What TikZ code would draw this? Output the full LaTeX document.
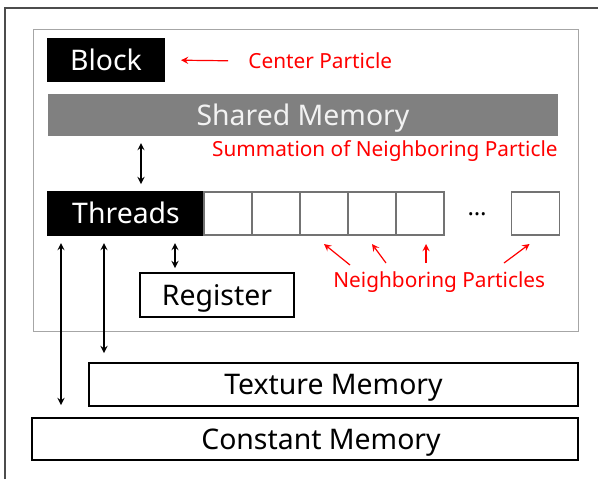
\documentclass[tikz,border=0pt]{standalone}
\usepackage{fontspec}
\setmainfont{Noto Sans}
\usetikzlibrary{positioning, arrows}
\tikzset{
    >=stealth, % filled arrow heads
    box/.style={draw, line width=0.7pt, inner sep=0pt, outer sep=0pt, text height=11pt, text depth=1pt, font=\fontsize{14.2}{16}\selectfont}, % memory boxes
    dark/.style={box, fill=black, text=white}, % black boxes
    cell/.style={box, draw=black!55, minimum width=24pt, minimum height=21.5pt}, % empty thread cells
    note/.style={text=red, inner sep=0pt, font=\fontsize{10.4}{12}\selectfont}, % red notes
    dbl/.style={<->, line width=0.6pt}, % memory access
    redarr/.style={->, red, line width=0.6pt}, % red pointers
}
\begin{document}
\begin{tikzpicture}[x=0.5pt, y=-0.5pt]
\useasboundingbox (0,0) rectangle (598,479);
\draw[black!70, line width=0.8pt] (5,479) -- (5,8) -- (598,8);
\draw[black!35, line width=0.5pt] (33,29) rectangle (578,331);

\node[dark, minimum width=58pt, minimum height=21pt] (block) at (106,60) {Block};
\node[box, draw=none, fill=black!50, text=black!5, minimum width=255pt, minimum height=21pt] (shared) at (303,115) {Shared Memory};
\node[dark, minimum width=78pt, minimum height=21.5pt] (threads) at (126,213.5) {Threads};
\node[cell, right=0pt of threads] (c1) {};
\node[cell, right=0pt of c1] (c2) {};
\node[cell, right=0pt of c2] (c3) {};
\node[cell, right=0pt of c3] (c4) {};
\node[cell, right=0pt of c4] (c5) {};
\node[font=\fontsize{12}{14}\selectfont] (dots) at (477,214) {…};
\node[cell] (cl) at (535.5,213.5) {};
\node[box, minimum width=77pt, minimum height=22pt] (register) at (217,295) {Register};
\node[box, minimum width=244.5pt, minimum height=21.5pt] (texture) at (333.5,384.5) {Texture Memory};
\node[box, minimum width=273pt, minimum height=21pt] (constant) at (305,439) {\hspace*{16pt}Constant Memory};

% red notes
\node[note, anchor=west] (center) at (248,61) {Center Particle};
\node[note, anchor=east] (summation) at (558,151) {Summation of Neighboring Particle};
\node[note, anchor=base west] (neighbors) at (333,287) {Neighboring Particles};

\draw[redarr, shorten <=10pt, shorten >=8.5pt] (center.west) -- (block.east);
\draw[redarr] ([shift={(17,-22)}]neighbors.base west) -- ([yshift=-4.5pt]c3.south);
\draw[redarr] ([shift={(53,-24)}]neighbors.base west) -- ([yshift=-4.5pt]c4.south);
\draw[redarr] ([shift={(93,-24)}]neighbors.base west) -- ([xshift=3pt, yshift=-4.5pt]c5.south);
\draw[redarr] ([shift={(171,-24)}]neighbors.base west) -- ([xshift=-3pt, yshift=-4.5pt]cl.south);

% memory access
\draw[dbl, shorten <=3.5pt, shorten >=4pt] ([xshift=46.5pt]shared.south west) -- ([xshift=46.5pt]threads.north west);
\draw[dbl, shorten <=4pt, shorten >=2.5pt] ([xshift=17.5pt]register.north west |- threads.south) -- ([xshift=17.5pt]register.north west);
\draw[dbl, shorten <=4pt, shorten >=5pt] ([xshift=28pt]threads.south west) -- ([xshift=28pt]threads.south west |- texture.north);
\draw[dbl, shorten <=4pt, shorten >=6.5pt] ([xshift=6.5pt]threads.south west) -- ([xshift=6.5pt]threads.south west |- constant.north);
\end{tikzpicture}
\end{document}
